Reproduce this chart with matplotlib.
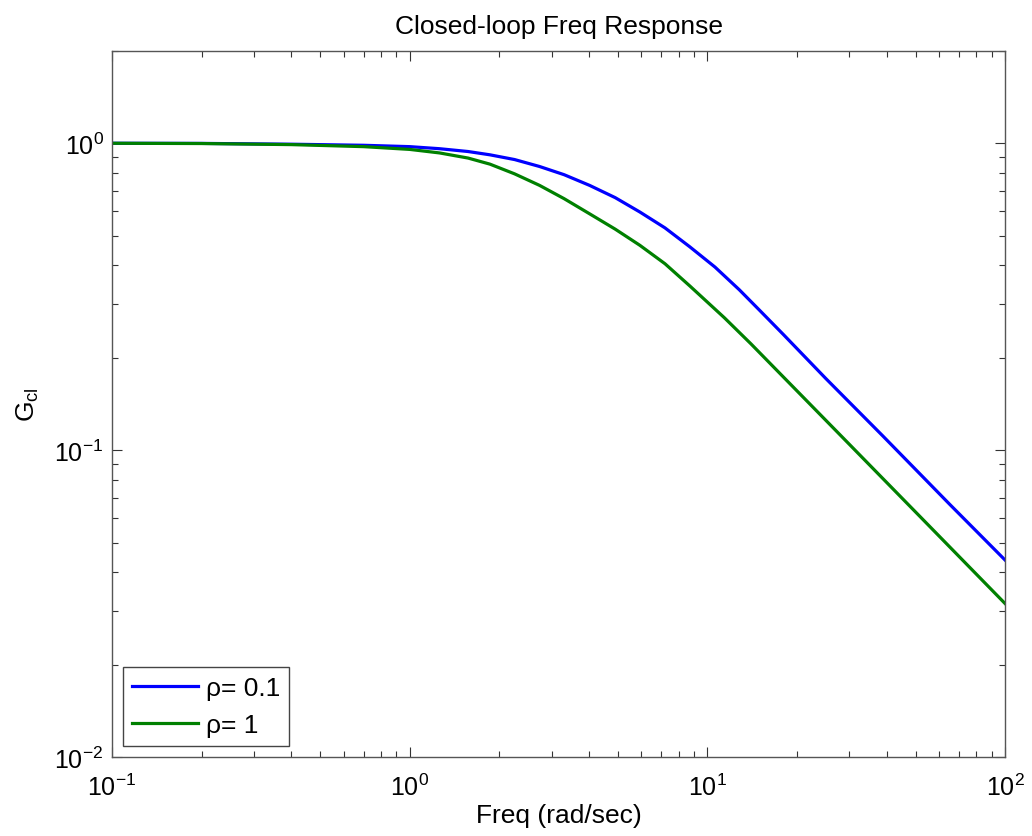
"""
Closed-loop frequency response, log-log plot of two weightings
"""
import matplotlib
matplotlib.use("Agg")
import matplotlib.pyplot as plt
from matplotlib.ticker import LogLocator

plt.rcParams['font.family'] = ['Liberation Sans', 'DejaVu Sans']
plt.rcParams['mathtext.fontset'] = 'custom'
plt.rcParams['mathtext.rm'] = 'Liberation Sans'
plt.rcParams['mathtext.it'] = 'Liberation Sans:italic'
plt.rcParams['axes.unicode_minus'] = False

# values
freq_rho01 = [0.1, 0.2, 0.4, 0.7, 1.0, 1.26, 1.57, 1.86, 2.25, 2.73, 3.3,
              4.02, 4.9, 5.93, 7.2, 8.72, 10.6, 12.8, 15.0, 18.0, 25.0,
              38.9, 65.2, 100]
gcl_rho01 = [1.0, 0.999, 0.993, 0.985, 0.975, 0.96, 0.94, 0.917, 0.885,
             0.84, 0.79, 0.729, 0.665, 0.597, 0.53, 0.46, 0.395, 0.333,
             0.285, 0.238, 0.171, 0.111, 0.0665, 0.0438]
freq_rho1 = [0.1, 0.2, 0.4, 0.7, 1.0, 1.26, 1.57, 1.86, 2.25, 2.73, 3.3,
             4.02, 4.9, 5.93, 7.2, 8.72, 11.4, 14.0, 17.9, 30.1, 50.3, 100]
gcl_rho1 = [1.0, 0.998, 0.99, 0.975, 0.955, 0.93, 0.895, 0.855, 0.795,
            0.729, 0.66, 0.589, 0.525, 0.465, 0.405, 0.343, 0.27, 0.222,
            0.174, 0.104, 0.0625, 0.0316]
labels = ['ρ= 0.1', 'ρ= 1']

fig = plt.figure(figsize=(10.32, 8.37), dpi=100)
ax = fig.add_axes([0.1085, 0.0944, 0.8655, 0.8436])

ax.loglog(freq_rho01, gcl_rho01, color=(0, 0, 1), lw=2.3, label=labels[0])
ax.loglog(freq_rho1, gcl_rho1, color=(0, 0.5, 0), lw=2.3, label=labels[1])

ax.set_xlim(0.1, 100)
ax.set_ylim(0.01, 2)
ax.xaxis.set_major_locator(LogLocator(base=10, numticks=10))
ax.yaxis.set_major_locator(LogLocator(base=10, numticks=10))

ax.tick_params(which='both', direction='in', top=True, right=True,
               colors='#333333', labelcolor='black', labelsize=18)
ax.tick_params(which='major', length=7, width=0.8)
ax.tick_params(which='minor', length=4, width=0.8)
ax.tick_params(axis='x', pad=12)
ax.tick_params(axis='y', pad=6)
for sp in ax.spines.values():
    sp.set_color('#555555')
    sp.set_linewidth(1.0)

ax.set_title('Closed-loop Freq Response', fontsize=19, pad=13)
ax.set_xlabel('Freq (rad/sec)', fontsize=19, labelpad=2)
ax.set_ylabel('$\\mathregular{G_{cl}}$', fontsize=19, labelpad=10)

leg = ax.legend(loc='lower left', fontsize=19, fancybox=False,
                framealpha=1, borderaxespad=0.4, handlelength=2.5,
                handletextpad=0.3, labelspacing=0.5, borderpad=0.35)
leg.get_frame().set_edgecolor('#444444')
leg.get_frame().set_linewidth(1.0)

fig.savefig('out.png', dpi=100)
